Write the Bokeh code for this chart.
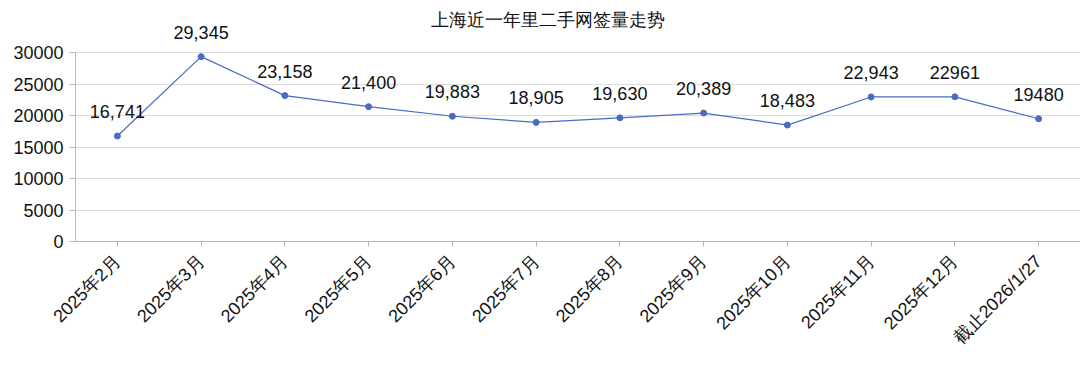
import math
from bokeh.plotting import figure
from bokeh.models import ColumnDataSource, LabelSet, Label, Range1d, FixedTicker
from bokeh.core.properties import value
from bokeh.embed import file_html
from bokeh.resources import INLINE

title_text = "上海近一年里二手网签量走势"
categories = ["2025年2月", "2025年3月", "2025年4月", "2025年5月", "2025年6月", "2025年7月",
              "2025年8月", "2025年9月", "2025年10月", "2025年11月", "2025年12月", "截止2026/1/27"]
values = [16741, 29345, 23158, 21400, 19883, 18905, 19630, 20389, 18483, 22943, 22961, 19480]
value_labels = ["16,741", "29,345", "23,158", "21,400", "19,883", "18,905", "19,630", "20,389",
                "18,483", "22,943", "22961", "19480"]
y_ticks = [0, 5000, 10000, 15000, 20000, 25000, 30000]

FONT = "Liberation Sans"
LINE = "#4a6cc0"
TXT = "#111111"

src = ColumnDataSource(dict(cat=categories, val=values, lbl=value_labels))

# 30000 sits ~189px above the x axis; extend the range so the frame reaches the top
y_top = y_ticks[-1] * 241 / 189

p = figure(width=1080, height=366, x_range=categories, y_range=Range1d(0, y_top),
           output_backend="svg", toolbar_location=None,
           min_border_left=75, min_border_right=0, min_border_top=0, min_border_bottom=125)
p.outline_line_color = None
p.background_fill_color = "white"
p.border_fill_color = "white"

p.line("cat", "val", source=src, line_color=LINE, line_width=1.2)
p.scatter("cat", "val", source=src, size=6, fill_color=LINE, line_color=LINE)

labels = LabelSet(x="cat", y="val", text="lbl", source=src, text_align="center",
                  text_baseline="alphabetic", y_offset=18, text_font=value(FONT),
                  text_font_size=value("18px"), text_color=value(TXT))
p.add_layout(labels)

title = Label(x=472, y=222, x_units="screen", y_units="screen", text=title_text,
              text_align="center", text_baseline="middle", text_font=FONT,
              text_font_size="18px", text_color=TXT)
p.add_layout(title)

p.yaxis.ticker = FixedTicker(ticks=y_ticks)
p.yaxis.bounds = (y_ticks[0], y_ticks[-1])
p.yaxis.minor_tick_line_color = None
p.yaxis.major_tick_in = 0
p.yaxis.major_tick_out = 6
p.yaxis.major_label_standoff = 6
p.yaxis.axis_line_color = "#b8b8b8"
p.yaxis.major_tick_line_color = "#b8b8b8"
p.yaxis.major_label_text_font = FONT
p.yaxis.major_label_text_font_size = "18px"
p.yaxis.major_label_text_color = TXT

p.xaxis.major_label_orientation = math.pi / 4
p.xaxis.major_tick_in = 0
p.xaxis.major_tick_out = 5
p.xaxis.major_label_standoff = 12
p.xaxis.axis_line_color = "#b8b8b8"
p.xaxis.major_tick_line_color = "#b8b8b8"
p.xaxis.major_label_text_font = FONT
p.xaxis.major_label_text_font_size = "18px"
p.xaxis.major_label_text_color = TXT

p.xgrid.grid_line_color = None
p.ygrid.grid_line_color = "#dcdcdc"
p.ygrid.grid_line_width = 1

p.x_range.range_padding = 0

open("out.html", "w").write(file_html(p, INLINE))
